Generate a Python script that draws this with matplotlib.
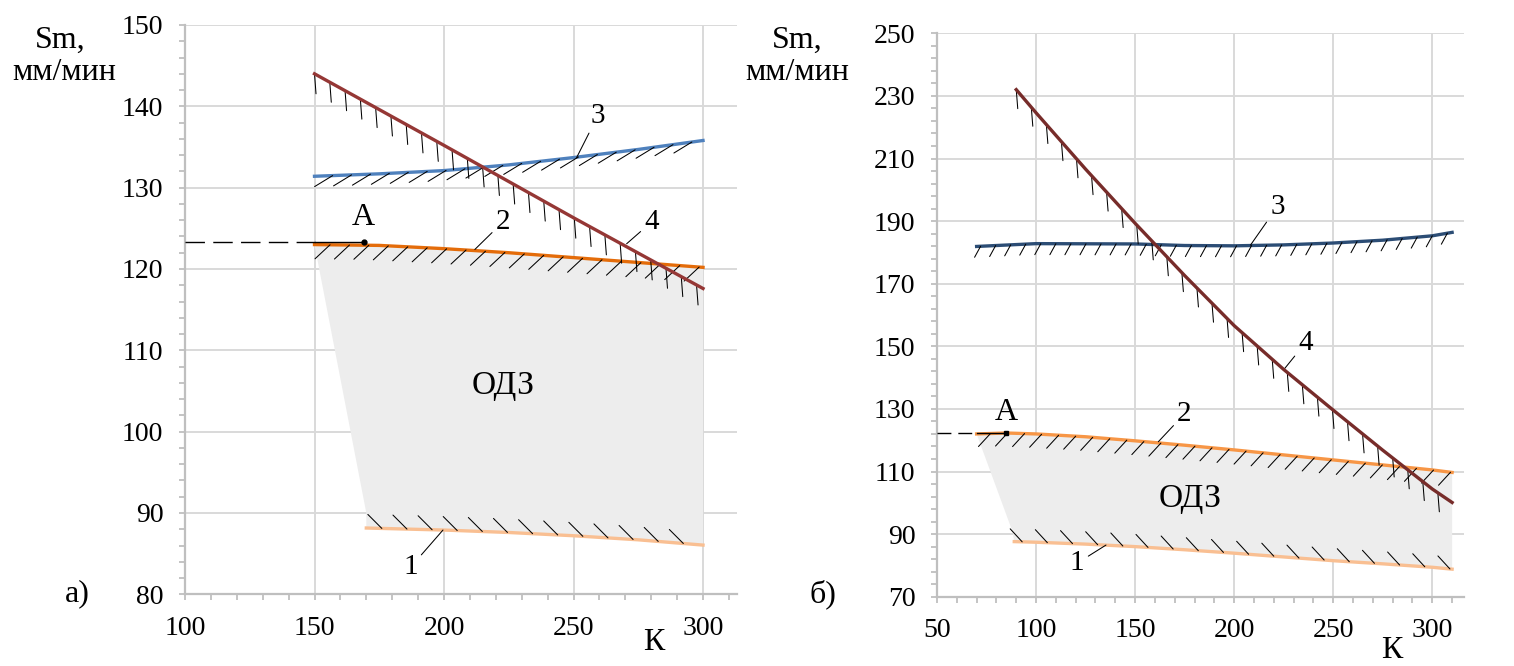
import numpy as np
import matplotlib
matplotlib.use('Agg')
import matplotlib.pyplot as plt
from matplotlib.ticker import MultipleLocator, FixedLocator

plt.rcParams['font.family'] = ['Liberation Serif', 'DejaVu Serif']

# ---------------- data, panel а) ----------------
a_K1 = [170, 200, 225, 250, 275, 300]
a_S1 = [88.15, 87.9, 87.6, 87.2, 86.7, 86.05]
a_K2 = [150, 175, 200, 225, 250, 275, 300]
a_S2 = [123.0, 122.9, 122.5, 122.0, 121.4, 120.8, 120.2]
a_K3 = [150, 175, 200, 225, 250, 275, 300]
a_S3 = [131.4, 131.7, 132.1, 132.8, 133.7, 134.7, 135.8]
a_K4 = [150, 200, 250, 300]
a_S4 = [144.0, 135.2, 126.3, 117.6]
a_A = (169, 123.3)
a_odz_corner = (170, 90)
a_xticks = [100, 150, 200, 250, 300]
a_yticks = [80, 90, 100, 110, 120, 130, 140, 150]

# ---------------- data, panel б) ----------------
b_K1 = [89, 100, 125, 150, 175, 200, 225, 250, 275, 300, 310]
b_S1 = [87.6, 87.4, 86.8, 86.0, 85.0, 83.9, 82.7, 81.5, 80.5, 79.4, 78.8]
b_K2 = [70, 85, 100, 125, 150, 175, 200, 225, 250, 275, 300, 310]
b_S2 = [122.0, 122.3, 122.0, 121.1, 119.8, 118.4, 116.9, 115.3, 113.7, 112.1, 110.5, 109.7]
b_K3 = [70, 100, 150, 175, 200, 225, 250, 275, 300, 310]
b_S3 = [181.9, 182.8, 182.7, 182.2, 182.1, 182.4, 183.0, 183.9, 185.3, 186.4]
b_K4 = [90, 100, 125, 150, 175, 200, 225, 250, 275, 300, 310]
b_S4 = [232.0, 224.6, 206.6, 189.3, 172.6, 156.6, 142.6, 129.6, 116.8, 104.4, 100.1]
b_A = (85, 122.3)
b_odz_corner = (88, 91)
b_xticks = [50, 100, 150, 200, 250, 300]
b_yticks = [70, 90, 110, 130, 150, 170, 190, 210, 230, 250]

# ---------------- styling ----------------
TICK_FS = 20
LBL_FS = 23
NUM_FS = 21
GRID = '#d9d9d9'
SPINE = '#bfbfbf'
FILL = '#ededed'
PX = 0.72  # points per pixel at dpi 100

fig = plt.figure(figsize=(15.14, 6.66), dpi=100)
axA = fig.add_axes([185 / 1514, 1 - 594.3 / 666, 551.7 / 1514, 569.3 / 666])
axB = fig.add_axes([937 / 1514, 1 - 596.7 / 666, 527 / 1514, 563.4 / 666])


def setup(ax, xlim, ylim, xt, yt, yminor):
    ax.set_xlim(*xlim)
    ax.set_ylim(*ylim)
    ax.xaxis.set_major_locator(FixedLocator(xt))
    ax.xaxis.set_minor_locator(MultipleLocator(10))
    ax.yaxis.set_major_locator(FixedLocator(yt))
    ax.yaxis.set_minor_locator(FixedLocator(np.arange(ylim[0], ylim[1] + 0.1, yminor)))
    ax.grid(True, which='major', color=GRID, lw=1.4)
    ax.set_axisbelow(True)
    for s in ['top', 'right']:
        ax.spines[s].set_visible(False)
    for s in ['left', 'bottom']:
        ax.spines[s].set_color(SPINE)
        ax.spines[s].set_linewidth(1.6)
    ax.tick_params(which='both', direction='out', length=4.5, width=1.3,
                   color=SPINE, labelsize=TICK_FS, pad=11)


def hatch(ax, K, S, x0, x1, step, dx, dy):
    for xi in np.arange(x0, x1 + 1e-6, step):
        yi = np.interp(xi, K, S)
        ax.annotate('', xy=(xi, yi), xytext=(dx * PX, dy * PX),
                    textcoords='offset points',
                    arrowprops=dict(arrowstyle='-', lw=0.75, color='black',
                                    shrinkA=0, shrinkB=0))


def leader(ax, text, lx, ly, px_, py_):
    ax.annotate(text, xy=(px_, py_), xytext=(lx, ly), fontsize=NUM_FS,
                ha='center', va='center',
                arrowprops=dict(arrowstyle='-', lw=0.75, color='black',
                                shrinkA=1, shrinkB=0))


# ================= panel а) =================
ax = axA
setup(ax, (100, 313), (80, 150), a_xticks, a_yticks, 2)

poly_x = a_K2 + [a_K1[-1]] + a_K1[::-1] + [a_odz_corner[0]]
poly_y = a_S2 + [a_S1[-1]] + a_S1[::-1] + [a_odz_corner[1]]
ax.fill(poly_x, poly_y, color=FILL, lw=0, zorder=1)

ax.plot(a_K1, a_S1, color='#f9bf92', lw=2.4, zorder=3)
ax.plot(a_K2, a_S2, color='#e46c0a', lw=2.4, zorder=3)
ax.plot(a_K3, a_S3, color='#4f81bd', lw=2.4, zorder=3)
ax.plot(a_K4, a_S4, color='#953735', lw=2.4, zorder=4)

hatch(ax, a_K4, a_S4, 150, 300, 5.9, 1.5, -20)
hatch(ax, a_K3, a_S3, 157, 300, 7.3, -18, -11)
hatch(ax, a_K2, a_S2, 156, 300, 7.5, -15, -14)
hatch(ax, a_K1, a_S1, 176, 300, 9.7, -14, 14)

ax.plot([100, a_K2[0]], [a_A[1], a_A[1]], color='black', lw=1.0,
        dashes=(14, 6), zorder=5, clip_on=False)
ax.plot([a_K2[0], a_A[0]], [a_A[1], a_A[1]], color='black', lw=1.0, zorder=5)
ax.plot([a_A[0]], [a_A[1]], 'o', color='black', ms=3.5, zorder=6)
ax.text(a_A[0], 126.3, 'A', fontsize=LBL_FS, ha='center', va='center')

leader(ax, '3', 259.3, 138.8, 251.2, 133.7)
leader(ax, '2', 222.8, 125.8, 211.9, 122.4)
leader(ax, '4', 280.2, 125.8, 270.5, 123.1)
leader(ax, '1', 187.0, 83.3, 199.6, 87.9)
ax.text(222.8, 105.7, 'ОДЗ', fontsize=LBL_FS + 1, ha='center', va='center')

# ================= panel б) =================
ax = axB
setup(ax, (50, 316), (70, 250), b_xticks, b_yticks, 4)

poly_x = b_K2 + [b_K1[-1]] + b_K1[::-1] + [b_odz_corner[0]]
poly_y = b_S2 + [b_S1[-1]] + b_S1[::-1] + [b_odz_corner[1]]
ax.fill(poly_x, poly_y, color=FILL, lw=0, zorder=1)

ax.plot(b_K1, b_S1, color='#f9bf92', lw=2.4, zorder=3)
ax.plot(b_K2, b_S2, color='#f79646', lw=2.4, zorder=3)
ax.plot(b_K3, b_S3, color='#2c4d75', lw=2.4, zorder=3)
ax.plot(b_K4, b_S4, color='#772c2a', lw=2.4, zorder=4)

hatch(ax, b_K4, b_S4, 90, 310, 7.6, 1.5, -19)
hatch(ax, b_K3, b_S3, 72, 310, 7.6, -6, -11)
hatch(ax, b_K2, b_S2, 77, 310, 8.6, -12, -13)
hatch(ax, b_K1, b_S1, 93, 310, 12.7, -12, 13)

ax.plot([50, b_K2[0]], [b_A[1], b_A[1]], color='black', lw=1.0,
        dashes=(10, 5), zorder=5, clip_on=False)
ax.plot([b_K2[0], b_A[0]], [b_A[1], b_A[1]], color='black', lw=1.0, zorder=5)
ax.plot([b_A[0]], [b_A[1]], 's', color='black', ms=3, zorder=6)
ax.text(b_A[0], 128.7, 'A', fontsize=LBL_FS, ha='center', va='center')

leader(ax, '3', 221.8, 194.6, 208.2, 182.3)
leader(ax, '4', 236.1, 151.2, 225.1, 142.6)
leader(ax, '2', 174.9, 128.4, 161.7, 119.5)
leader(ax, '1', 120.7, 80.7, 135.3, 86.5)
ax.text(177.8, 101.3, 'ОДЗ', fontsize=LBL_FS + 1, ha='center', va='center')

# ================= outer texts =================
def ftext(x, y, s, **kw):
    fig.text(x / 1514, 1 - y / 666, s, fontsize=LBL_FS, ha='center', va='center', **kw)

ftext(60, 40, 'Sm,')
ftext(64, 73, 'мм/мин')
ftext(797, 40, 'Sm,')
ftext(797, 72, 'мм/мин')
ftext(77, 594, 'а)')
ftext(823, 594, 'б)')
ftext(654, 643, 'К')
ftext(1392, 650, 'К')

fig.savefig('out.png', dpi=100)
